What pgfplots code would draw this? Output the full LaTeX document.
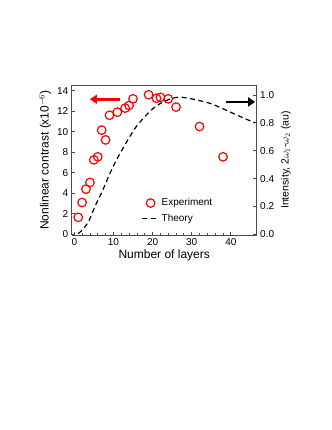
\documentclass[border=0pt]{standalone}
\usepackage{fontspec}
\setmainfont{Liberation Sans}
\usepackage{pgfplots}
\pgfplotsset{compat=1.18}
\usetikzlibrary{arrows.meta}

\pgfplotsset{
  common/.style={
    scale only axis, width=185bp, height=150bp,
    at={(0,0)}, anchor=south west,
    axis line style={draw=black!70, line width=0.9bp},
    tick style={draw=black!70, line width=0.8bp},
    tick align=inside,
    major tick length=3.5bp, minor tick length=2bp,
    tick label style={font=\fontsize{10bp}{12bp}\selectfont},
    /pgf/number format/assume math mode=true,
    xmin=-0.66, xmax=46.6,
  },
}

\begin{document}
\begin{tikzpicture}
\path[use as bounding box] (-71.7bp,-195bp) rectangle (260.3bp,235bp);
\begin{axis}[common,
  ymin=-0.07, ymax=14.55,
  ytick={0,2,...,14},
  xtick={0,10,20,30,40}, minor x tick num=4,
  axis y line*=left, axis x line*=bottom,
  xlabel={Number of layers},
  ylabel={Nonlinear contrast (x10$^{-6}$)},
  label style={font=\fontsize{12bp}{14bp}\selectfont},
  xlabel style={yshift=3bp},
  ylabel style={yshift=-1bp},
  legend style={at={(0.36,0.27)}, anchor=north west, draw=none, fill=none,
    font=\fontsize{10bp}{12bp}\selectfont, row sep=3bp},
  legend cell align=left,
]
\addplot[only marks, mark=o, mark size=4.3bp, draw=red, line width=1.2bp]
  coordinates {
  (1,1.65) (2,3.1) (3,4.4) (4,5.05) (5,7.25) (6,7.55) (7,10.15) (8,9.2)
  (9,11.6) (11,11.9) (13,12.3) (14,12.55) (15,13.2) (19,13.6) (21,13.25)
  (22,13.35) (24,13.2) (26,12.4) (32,10.5) (38,7.55)
  };
\addlegendentry{Experiment}
\addlegendimage{black, line width=1.2bp, dash pattern=on 5bp off 3.5bp}
\addlegendentry{Theory}
\draw[red, line width=2.8bp, -{Triangle[length=7bp,width=9bp]}]
  (axis cs:11.7,13.16) -- (axis cs:4.0,13.16);
\draw[black, line width=2.8bp, -{Triangle[length=7bp,width=9bp]}]
  (axis cs:38.7,12.9) -- (axis cs:46.2,12.9);
\end{axis}
\begin{axis}[common,
  ymin=-0.005, ymax=1.072,
  ytick={0,0.2,...,1.0},
  yticklabel style={/pgf/number format/.cd, fixed, fixed zerofill, precision=1},
  axis y line*=right, axis x line*=top,
  xtick=\empty,
  ylabel={Intensity, 2$\omega_1$-$\omega_2$ (au)},
  ylabel style={font=\fontsize{10.5bp}{12bp}\selectfont},
]
\addplot[black, line width=1.2bp, dash pattern=on 5bp off 3.5bp, smooth]
  coordinates {
  (1,0.005) (2,0.03) (3.6,0.09) (5.3,0.2) (7,0.3) (9,0.43) (10.6,0.525)
  (13,0.645) (15.5,0.76) (17.7,0.835) (20.2,0.905) (22.8,0.952) (25,0.975)
  (27,0.985) (30.4,0.97) (34.7,0.94) (38.1,0.9) (42.4,0.845) (46.2,0.8)
  };
\end{axis}
\end{tikzpicture}
\end{document}
